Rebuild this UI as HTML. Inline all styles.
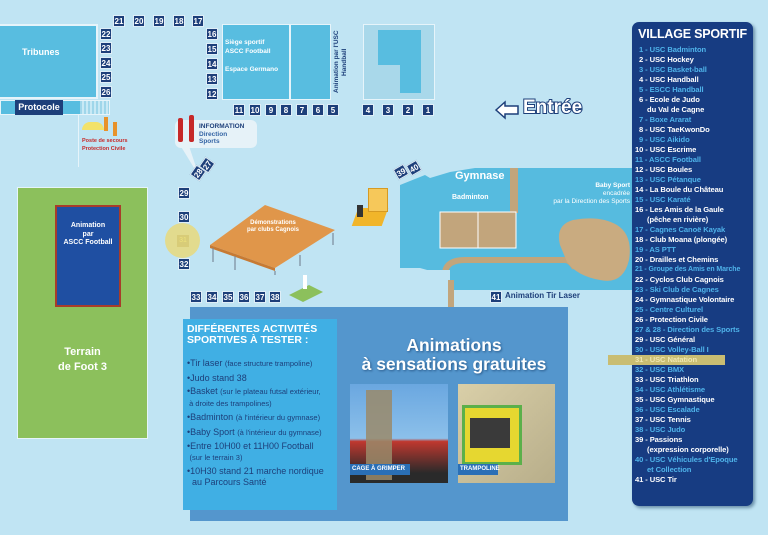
<!DOCTYPE html>
<html><head><meta charset="utf-8"><style>
*{margin:0;padding:0;box-sizing:border-box}
body{width:768px;height:535px;overflow:hidden;background:#c0e4f3;font-family:"Liberation Sans",sans-serif;position:relative}
.a{position:absolute}
.n{position:absolute;width:12px;height:12px;background:#1d3f7a;color:#fff;font-size:8px;font-weight:bold;text-align:center;line-height:12px;border:1px solid #dfeef7}
.leg{position:absolute;left:632px;top:22px;width:121px;height:484px;background:#173c82;border-radius:7px;box-shadow:2px 2px 3px #6a8fa8}
.leg h1{font-size:12.5px;color:#fff;text-align:center;margin-top:5px;letter-spacing:-0.2px;font-family:"Liberation Sans Narrow","Liberation Sans",sans-serif}
.leg div{font-size:7.6px;font-weight:bold;line-height:10px;padding-left:7px;white-space:nowrap;letter-spacing:-0.1px;position:relative}
.o{color:#4fb3ea}.e{color:#fff}
.w{color:#fff;font-weight:bold}
</style></head><body>
<!-- tribunes -->
<div class="a" style="left:0;top:24px;width:98px;height:75px;background:#58bde0;border:2px solid #e6f4fa;border-left:none"></div>
<div class="a w" style="left:22px;top:47px;font-size:9px">Tribunes</div>
<div class="a" style="left:0;top:100px;width:110px;height:15px;background:#58bde0;border:1px solid #e6f4fa"></div>
<div class="a" style="left:80px;top:101px;width:29px;height:13px;background:repeating-linear-gradient(90deg,#9fd6ea 0 2px,#c8e9f5 2px 4px)"></div>
<div class="a w" style="left:15px;top:100px;width:48px;height:15px;background:#1d3f7a;font-size:9px;line-height:15px;text-align:center">Protocole</div>
<div class="a" style="left:78px;top:115px;width:1px;height:52px;background:#e6f4fa"></div>
<div class="a" style="left:82px;top:122px;width:22px;height:8px;background:#f2e26a;border-radius:10px 10px 0 0"></div>
<div class="a" style="left:104px;top:117px;width:4px;height:14px;background:#e8922a"></div>
<div class="a" style="left:113px;top:122px;width:4px;height:14px;background:#e8922a"></div>
<div class="a" style="left:82px;top:137px;font-size:5.5px;color:#c62828;font-weight:bold;line-height:8px">Poste de secours<br>Protection Civile</div>
<!-- numbers -->
<div class="n" style="left:113px;top:15px">21</div><div class="n" style="left:133px;top:15px">20</div><div class="n" style="left:153px;top:15px">19</div><div class="n" style="left:173px;top:15px">18</div><div class="n" style="left:192px;top:15px">17</div>
<div class="n" style="left:100px;top:28px">22</div><div class="n" style="left:100px;top:42px">23</div><div class="n" style="left:100px;top:57px">24</div><div class="n" style="left:100px;top:71px">25</div><div class="n" style="left:100px;top:86px">26</div>
<div class="n" style="left:206px;top:28px">16</div><div class="n" style="left:206px;top:43px">15</div><div class="n" style="left:206px;top:58px">14</div><div class="n" style="left:206px;top:73px">13</div><div class="n" style="left:206px;top:88px">12</div>
<div class="a" style="left:222px;top:24px;width:68px;height:76px;background:#58bde0;border:1px solid #e6f4fa"></div>
<div class="a" style="left:290px;top:24px;width:41px;height:76px;background:#58bde0;border:1px solid #e6f4fa"></div>
<div class="a w" style="left:225px;top:38px;font-size:6.5px;line-height:9px">Siège sportif<br>ASCC Football<br><br style="line-height:6px">Espace Germano</div>
<div class="a" style="left:333px;top:28px;width:20px;height:68px;color:#1d3f7a;font-weight:bold;font-size:6.5px;line-height:8px;writing-mode:vertical-rl;transform:rotate(180deg);text-align:center">Animation par l'USC<br>Handball</div>
<div class="n" style="left:233px;top:104px">11</div><div class="n" style="left:249px;top:104px">10</div><div class="n" style="left:265px;top:104px">9</div><div class="n" style="left:280px;top:104px">8</div><div class="n" style="left:296px;top:104px">7</div><div class="n" style="left:312px;top:104px">6</div><div class="n" style="left:327px;top:104px">5</div>
<div class="a" style="left:363px;top:24px;width:72px;height:76px;background:#a9d8ea;border:1px solid #e6f4fa"></div>
<div class="a" style="left:378px;top:30px;width:43px;height:35px;background:#58bde0"></div>
<div class="a" style="left:400px;top:64px;width:21px;height:29px;background:#58bde0"></div>
<div class="n" style="left:362px;top:104px">4</div><div class="n" style="left:382px;top:104px">3</div><div class="n" style="left:402px;top:104px">2</div><div class="n" style="left:422px;top:104px">1</div>
<!-- entree -->
<svg class="a" style="left:494px;top:99px" width="26" height="22"><polygon points="2,11 11,3 11,7 24,7 24,15 11,15 11,19" fill="#fff" stroke="#1d3f7a" stroke-width="1.5"/></svg>
<div class="a" style="left:523px;top:97px;font-size:19px;font-weight:bold;color:#fff;-webkit-text-stroke:2px #1d3f7a;paint-order:stroke fill">Entrée</div>
<!-- information -->
<div class="a" style="left:175px;top:120px;width:82px;height:28px;background:#e6f2f8;border-radius:6px"></div>
<svg class="a" style="left:175px;top:140px" width="30" height="40"><polygon points="2,0 12,0 24,36" fill="#e6f2f8"/></svg>
<div class="a" style="left:178px;top:118px;width:5px;height:24px;background:#c62828;border-radius:2px"></div>
<div class="a" style="left:189px;top:115px;width:5px;height:27px;background:#c62828;border-radius:2px"></div>
<div class="a" style="left:199px;top:123px;font-size:6.5px;font-weight:bold;color:#1d3f7a;line-height:7.5px">INFORMATION<br><span style="color:#3565a5">Direction<br>Sports</span></div>
<div class="n" style="left:192px;top:167px;transform:rotate(-55deg)">28</div><div class="n" style="left:201px;top:159px;transform:rotate(-55deg)">27</div>
<!-- terrain -->
<div class="a" style="left:17px;top:187px;width:131px;height:252px;background:#8cc05c;border:1px solid #e6f4fa"></div>
<div class="a" style="left:55px;top:205px;width:66px;height:102px;background:#1f4fa2;border:2px solid #a83c2a"></div>
<div class="a w" style="left:55px;top:222px;width:66px;text-align:center;font-size:7px;line-height:8.5px">Animation<br>par<br>ASCC Football</div>
<div class="a w" style="left:17px;top:345px;width:131px;text-align:center;font-size:11px;line-height:15px">Terrain<br>de Foot 3</div>
<div class="n" style="left:178px;top:187px">29</div><div class="n" style="left:178px;top:211px">30</div>
<div class="a" style="left:165px;top:223px;width:35px;height:35px;border-radius:50%;background:#e2db8e"></div>
<div class="a" style="left:177px;top:235px;width:12px;height:12px;background:#d8cc78;color:#eee37c;font-size:7px;text-align:center;line-height:12px">31</div>
<div class="n" style="left:178px;top:258px">32</div>
<!-- demonstrations -->
<svg class="a" style="left:205px;top:200px" width="135" height="75">
<polygon points="5,45 60,5 130,30 70,68" fill="#e0964a"/>
<polygon points="5,45 70,68 70,71 5,48" fill="#c77a33"/>
<g stroke="#7a8a9a" stroke-width="1.2"><line x1="8" y1="48" x2="8" y2="62"/><line x1="30" y1="56" x2="30" y2="70"/><line x1="70" y1="71" x2="70" y2="75"/><line x1="95" y1="55" x2="95" y2="66"/><line x1="128" y1="33" x2="128" y2="45"/></g>
</svg>
<div class="a w" style="left:238px;top:220px;width:70px;text-align:center;font-size:6px;line-height:7px">Démonstrations<br>par clubs Cagnois</div>
<div class="n" style="left:190px;top:291px">33</div><div class="n" style="left:206px;top:291px">34</div><div class="n" style="left:222px;top:291px">35</div><div class="n" style="left:238px;top:291px">36</div><div class="n" style="left:254px;top:291px">37</div><div class="n" style="left:269px;top:291px">38</div>
<svg class="a" style="left:287px;top:280px" width="40" height="25"><polygon points="2,15 22,5 36,12 16,22" fill="#8cc05c"/></svg>
<div class="a" style="left:303px;top:275px;width:4px;height:14px;background:#fff"></div>
<!-- gymnase -->
<svg class="a" style="left:395px;top:160px" width="240" height="135">
<polygon points="5,25 30,15 35,18 55,12 80,8 240,8 240,130 50,130 50,115 25,108 5,108" fill="#56bbdf"/>
<path d="M50,130 L50,112 Q52,100 70,100 L170,100 Q175,100 180,108" stroke="#c2a57c" stroke-width="6" fill="none"/>
<rect x="115" y="8" width="8" height="45" fill="#c2a57c"/>
<rect x="45" y="52" width="76" height="36" fill="#c2a57c" stroke="#fff" stroke-width="1"/>
<line x1="83" y1="52" x2="83" y2="88" stroke="#fff"/>
<path d="M165,85 Q160,65 178,60 Q205,55 222,65 Q238,75 234,100 Q228,125 205,120 Q182,116 172,102 Z" fill="#c9ab80"/>
</svg>
<div class="a" style="left:395px;top:270px;width:55px;height:20px;background:#c0e4f3"></div>
<div class="a" style="left:448px;top:280px;width:6px;height:28px;background:#c2a57c"></div>
<div class="n" style="left:395px;top:166px;transform:rotate(-30deg)">39</div><div class="n" style="left:408px;top:162px;transform:rotate(-30deg)">40</div>
<div class="a w" style="left:455px;top:170px;font-size:11px">Gymnase</div>
<div class="a w" style="left:452px;top:194px;font-size:7px">Badminton</div>
<div class="a w" style="left:520px;top:182px;font-size:6.5px;text-align:right;width:110px;line-height:8px">Baby Sport<br><span style="font-weight:normal">encadrée<br>par la Direction des Sports</span></div>
<!-- stage -->
<div class="a" style="left:355px;top:208px;width:30px;height:18px;background:#f1b52a;transform:skewX(-20deg)"></div>
<div class="a" style="left:368px;top:188px;width:20px;height:24px;background:#f6c85a;border:1px solid #d69a22"></div>
<div class="a" style="left:357px;top:205px;width:6px;height:12px;background:#333"></div>
<div class="n" style="left:490px;top:291px">41</div>
<div class="a" style="left:505px;top:291px;font-size:8px;font-weight:bold;color:#1d3f7a">Animation Tir Laser</div>
<!-- bottom panel -->
<div class="a" style="left:190px;top:307px;width:378px;height:214px;background:#5496cd"></div>
<div class="a" style="left:183px;top:319px;width:154px;height:191px;background:#40afe4"></div>
<div class="a" style="left:187px;top:324px;font-size:10.5px;font-weight:bold;color:#fff;line-height:11px;font-family:'Liberation Sans Narrow','Liberation Sans',sans-serif">DIFFÉRENTES ACTIVITÉS<br>SPORTIVES À TESTER :</div>
<div class="a" style="left:187px;top:358px;font-size:9px;color:#1d3f7a;line-height:10.5px;font-family:'Liberation Sans Narrow','Liberation Sans',sans-serif">
<div style="margin-bottom:3px">•Tir laser <small>(face structure trampoline)</small></div>
<div style="margin-bottom:3px">•Judo stand 38</div>
<div style="margin-bottom:3px">•Basket <small>(sur le plateau futsal extérieur,<br>&nbsp;à droite des trampolines)</small></div>
<div style="margin-bottom:3px">•Badminton <small>(à l'intérieur du gymnase)</small></div>
<div style="margin-bottom:3px">•Baby Sport <small>(à l'intérieur du gymnase)</small></div>
<div style="margin-bottom:3px">•Entre 10H00 et 11H00 Football<br>&nbsp;<small>(sur le terrain 3)</small></div>
<div>•10H30 stand 21 marche nordique<br>&nbsp;&nbsp;au Parcours Santé</div>
</div>
<div class="a w" style="left:340px;top:336px;width:228px;text-align:center;font-size:17.5px;line-height:19px;text-shadow:1px 1px 2px #2a5a8a">Animations<br>à sensations gratuites</div>
<div class="a" style="left:350px;top:384px;width:98px;height:99px;background:linear-gradient(#6aa7e0 0%,#8cc0ea 55%,#c0382f 58%,#2a2a2a 90%)"></div>
<div class="a" style="left:366px;top:390px;width:26px;height:90px;background:#9a8a6a;opacity:.85"></div>
<div class="a w" style="left:350px;top:464px;width:60px;height:11px;background:#2a6fb6;font-size:6px;line-height:11px;padding-left:2px">CAGE À GRIMPER</div>
<div class="a" style="left:458px;top:384px;width:97px;height:99px;background:linear-gradient(135deg,#d9cfa8,#b8ae8a)"></div>
<div class="a" style="left:462px;top:405px;width:60px;height:60px;background:#e6d730;border:3px solid #5bb04a"></div>
<div class="a" style="left:470px;top:418px;width:40px;height:30px;background:#3a3a3a"></div>
<div class="a w" style="left:458px;top:464px;width:40px;height:11px;background:#2a6fb6;font-size:6px;line-height:11px;padding-left:2px">TRAMPOLINE</div>
<!-- legend -->
<div class="leg"><h1>VILLAGE SPORTIF</h1>
<div style="height:4px;line-height:4px"></div>
<div class="o">1 - USC Badminton</div>
<div class="e">2 - USC Hockey</div>
<div class="o">3 - USC Basket-ball</div>
<div class="e">4 - USC Handball</div>
<div class="o">5 - ESCC Handball</div>
<div class="e">6 - Ecole de Judo<br>&nbsp;&nbsp;&nbsp;&nbsp;du Val de Cagne</div>
<div class="o">7 - Boxe Ararat</div>
<div class="e">8 - USC TaeKwonDo</div>
<div class="o">9 - USC Aikido</div>
<div class="e" style="padding-left:3px">10 - USC Escrime</div>
<div class="o" style="padding-left:3px">11 - ASCC Football</div>
<div class="e" style="padding-left:3px">12 - USC Boules</div>
<div class="o" style="padding-left:3px">13 - USC Pétanque</div>
<div class="e" style="padding-left:3px">14 - La Boule du Château</div>
<div class="o" style="padding-left:3px">15 - USC Karaté</div>
<div class="e" style="padding-left:3px">16 - Les Amis de la Gaule<br>&nbsp;&nbsp;&nbsp;&nbsp;&nbsp;&nbsp;(pêche en rivière)</div>
<div class="o" style="padding-left:3px">17 - Cagnes Canoë Kayak</div>
<div class="e" style="padding-left:3px">18 - Club Moana (plongée)</div>
<div class="o" style="padding-left:3px">19 - AS PTT</div>
<div class="e" style="padding-left:3px">20 - Drailles et Chemins</div>
<div class="o" style="padding-left:3px;font-size:7px">21 - Groupe des Amis en Marche</div>
<div class="e" style="padding-left:3px">22 - Cyclos Club Cagnois</div>
<div class="o" style="padding-left:3px">23 - Ski Club de Cagnes</div>
<div class="e" style="padding-left:3px">24 - Gymnastique Volontaire</div>
<div class="o" style="padding-left:3px">25 - Centre Culturel</div>
<div class="e" style="padding-left:3px">26 - Protection Civile</div>
<div class="o" style="padding-left:3px">27 &amp; 28 - Direction des Sports</div>
<div class="e" style="padding-left:3px">29 - USC Général</div>
<div class="o" style="padding-left:3px">30 - USC Volley-Ball I</div>
<div class="o" style="padding-left:3px;color:#f0e7b0"><span style="position:absolute;left:-24px;top:0;width:117px;height:10px;background:#c9bd72"></span><span style="position:relative">31 - USC Natation</span></div>
<div class="o" style="padding-left:3px">32 - USC BMX</div>
<div class="e" style="padding-left:3px">33 - USC Triathlon</div>
<div class="o" style="padding-left:3px">34 - USC Athlétisme</div>
<div class="e" style="padding-left:3px">35 - USC Gymnastique</div>
<div class="o" style="padding-left:3px">36 - USC Escalade</div>
<div class="e" style="padding-left:3px">37 - USC Tennis</div>
<div class="o" style="padding-left:3px">38 - USC Judo</div>
<div class="e" style="padding-left:3px">39 - Passions<br>&nbsp;&nbsp;&nbsp;&nbsp;&nbsp;&nbsp;(expression corporelle)</div>
<div class="o" style="padding-left:3px">40 - USC Véhicules d'Epoque<br>&nbsp;&nbsp;&nbsp;&nbsp;&nbsp;&nbsp;et Collection</div>
<div class="e" style="padding-left:3px">41 - USC Tir</div>
</div>
</body></html>
